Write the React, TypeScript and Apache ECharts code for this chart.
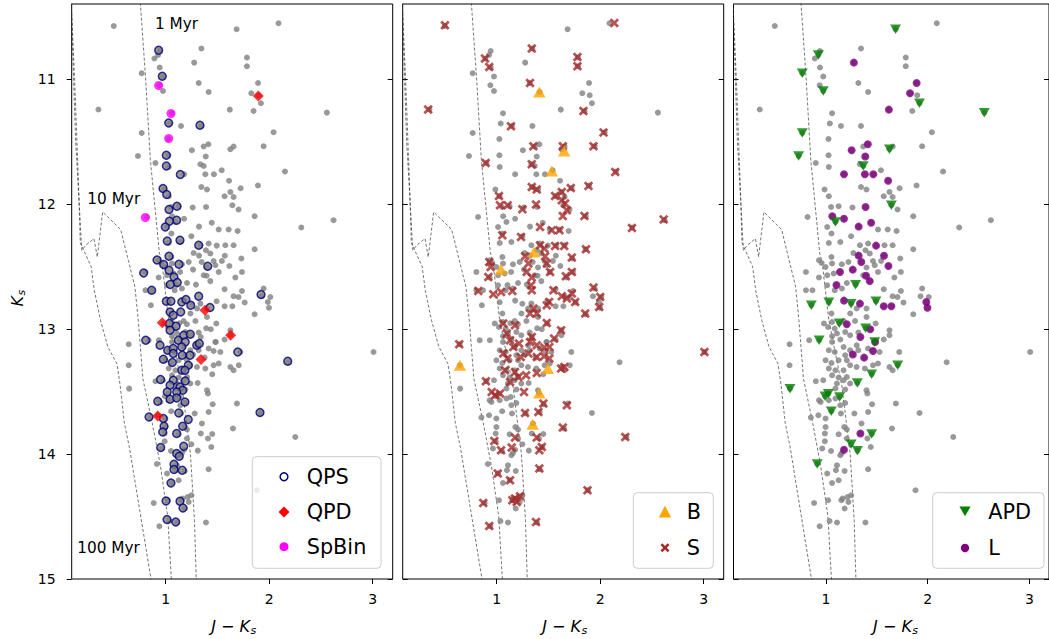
import React, { useEffect, useRef } from "react";
import * as echarts from "echarts";

const XMIN = 0.092;
const XMAX = 3.193;
const YMIN = 10.4;
const YMAX = 15;
const X_TICKS = [1, 2, 3];
const Y_TICKS = [11, 12, 13, 14, 15];

// Full sample: stars not flagged in the right-hand panel
const GRAY: number[][] = [
  [0.498,10.576],[2.090,10.554],[0.942,10.776],[0.891,10.836],[1.345,10.756],[1.785,10.828],[1.785,10.898],[0.942,10.908],[0.974,10.980],[0.939,11.050],[1.319,11.032],[1.415,11.104],[1.898,11.130],[0.350,11.244],[1.061,11.274],[1.849,11.256],[1.039,11.356],[1.148,11.376],[1.345,11.376],[2.042,11.426],[1.026,11.480],[1.946,11.538],[1.367,11.540],[1.656,11.540],[1.026,11.610],[0.901,11.672],[1.029,11.704],[1.335,11.682],[1.541,11.730],[2.152,11.740],[1.891,11.852],[0.987,11.884],[1.345,11.864],[1.399,11.884],[1.724,11.874],[1.625,11.904],
  [1.029,11.938],[1.569,11.938],[1.656,11.944],[0.820,12.104],[1.051,12.024],[1.125,12.018],[1.261,12.028],[1.512,12.204],[1.608,12.204],[1.695,12.216],[1.013,12.184],[1.055,12.236],[1.142,12.304],[1.248,12.258],[1.029,12.312],[1.335,12.330],[1.415,12.316],[1.576,12.330],[1.656,12.330],[1.389,12.370],[1.431,12.396],[1.270,12.392],[1.222,12.464],[0.932,12.450],[0.958,12.472],[0.997,12.504],[1.055,12.424],[1.061,12.476],[1.157,12.482],[1.399,12.508],[1.480,12.490],[1.543,12.456],[1.463,12.456],[1.512,12.544],[0.804,12.544],[0.932,12.588],[1.013,12.570],[1.077,12.556],[1.367,12.570],[1.673,12.588],[1.206,12.632],[1.157,12.676],[1.013,12.650],[0.804,12.690],[0.868,12.690],[1.087,12.690],[1.569,12.682],[1.656,12.738],
  [1.704,12.044],[1.859,12.098],[2.310,12.188],[2.622,12.130],[1.859,12.362],[1.731,12.436],[1.737,12.544],[1.737,12.696],[1.704,12.744],[1.763,12.788],[1.946,12.676],[1.930,12.738],[2.011,12.744],[1.859,12.882],[1.721,13.184],[3.008,13.184],[2.187,13.266],[1.920,13.672],[2.252,13.864],[1.881,14.290],
  [1.055,12.876],[0.981,12.956],[1.061,12.944],[1.239,12.876],[1.303,12.836],[1.399,12.836],[1.489,12.956],[1.399,12.904],[1.287,12.936],[1.174,12.936],[1.022,12.984],[1.087,12.996],[1.190,13.024],[1.238,13.050],[1.319,13.028],[1.625,13.010],[1.625,13.050],[1.569,13.084],[0.836,13.090],[0.643,13.122],[1.061,13.058],[1.109,13.036],[1.142,13.084],[1.061,13.104],[1.029,13.170],[1.087,13.184],[1.174,13.144],[1.190,13.210],[1.238,13.170],[1.303,13.130],[1.319,13.170],[1.415,13.156],[1.528,13.184],[0.643,13.290],[0.997,13.250],[1.055,13.272],[1.125,13.250],[1.206,13.250],[1.238,13.290],[1.029,13.316],[1.094,13.330],[1.174,13.330],[1.302,13.304],[1.383,13.316],[1.463,13.290],[1.512,13.276],[1.625,13.304],[1.656,13.330],[1.061,13.370],[1.125,13.388],[1.206,13.384],[0.901,13.418],[0.974,13.410],[1.109,13.436],[1.174,13.410],[1.238,13.436],[1.094,13.476],[1.190,13.484],[1.399,13.490],[1.408,13.516],[1.029,13.570],[1.094,13.556],[0.932,13.570],[1.688,13.596],
  [0.949,13.584],[1.142,13.610],[1.190,13.592],[1.454,13.602],[0.852,13.708],[0.926,13.690],[0.997,13.716],[1.148,13.676],[1.280,13.676],[1.415,13.664],[0.997,13.784],[1.180,13.784],[1.206,13.804],[1.350,13.756],[1.650,13.796],[0.990,13.836],[1.125,13.842],[1.206,13.876],[1.408,13.876],[0.990,13.898],[0.964,13.956],[1.051,13.976],[1.142,14.010],[1.157,13.992],[1.441,13.944],[1.109,14.090],[1.099,14.130],[1.013,14.156],[1.184,14.136],[1.415,14.122],[1.061,14.232],[1.125,14.210],[0.884,14.392],[1.022,14.370],[1.152,14.370],[1.164,14.356],[1.212,14.344],[1.248,14.330],[1.222,14.384],[1.184,14.436],[1.036,14.536],[1.109,14.548],[0.939,14.578],[1.389,14.548],
];

const APD: number[][] = [
  [1.685,10.602],[0.926,10.808],[0.768,10.954],[0.974,11.096],[1.920,11.194],[2.557,11.269],[0.768,11.432],[0.732,11.616],[1.625,11.562],[1.367,11.696],[1.644,12.010],[1.094,12.144],[1.292,12.645],[0.857,12.810],[1.029,12.786],[1.248,12.798],[1.492,12.778],[1.132,12.954],[1.391,12.994],[1.480,13.104],[0.934,13.090],[1.706,13.290],[1.450,13.362],[1.309,13.432],[0.647,13.477],[1.024,13.518],[0.992,13.538],[1.135,13.544],[1.053,13.658],[1.450,13.840],[1.248,13.922],[1.310,13.973],[0.915,14.080],
];

const L: number[][] = [
  [1.275,10.869],[1.892,11.032],[1.827,11.114],[1.619,11.245],[1.412,11.522],[1.253,11.570],[1.387,11.620],[1.178,11.762],[1.383,11.762],[1.466,11.762],[1.612,11.814],[1.390,12.024],[1.063,12.098],[1.178,12.118],[1.322,12.181],[1.445,12.150],[1.493,12.333],[1.322,12.413],[1.571,12.414],[1.348,12.464],[1.615,12.496],[1.264,12.525],[1.395,12.574],[1.431,12.617],[1.139,12.544],[1.104,12.648],[1.178,12.773],[1.335,12.797],[1.569,12.818],[1.644,12.818],[1.987,12.784],[1.998,12.830],[1.205,12.962],[1.436,13.002],[1.339,13.064],[1.484,13.104],[1.463,13.176],[1.265,13.204],[1.376,13.229],[1.339,13.836],[1.178,13.966],
];

const QPS: number[][] = [
  [0.932,10.770],[0.967,10.978],[1.029,11.352],[1.331,11.370],[1.006,11.610],[1.006,11.696],[1.141,11.764],[0.974,11.876],[1.010,11.924],[1.109,12.018],[1.032,12.044],[1.106,12.130],[1.035,12.138],[0.996,12.184],[1.015,12.296],[1.138,12.290],[1.319,12.330],[0.916,12.448],[1.032,12.418],[0.981,12.484],[1.032,12.530],[1.128,12.482],[1.406,12.498],[0.787,12.552],[1.080,12.584],[1.112,12.628],[1.044,12.644],[0.865,12.690],[1.319,12.738],[1.921,12.724],[1.006,12.778],[1.051,12.778],[1.155,12.784],[1.196,12.764],[1.242,12.810],[1.428,12.828],[1.042,12.864],[1.145,12.864],[1.073,12.890],[1.035,12.956],[1.100,12.978],[1.042,13.010],[0.807,13.090],[1.174,13.050],[1.238,13.042],[1.122,13.090],[1.189,13.104],[0.945,13.130],[1.019,13.170],[1.073,13.156],[1.155,13.144],[1.300,13.130],[1.325,13.116],[1.073,13.196],[1.160,13.210],[1.235,13.210],[1.696,13.184],[0.977,13.242],[1.064,13.268],[1.218,13.290],[1.155,13.330],[1.186,13.330],[2.179,13.258],[0.950,13.404],[1.073,13.410],[1.189,13.416],[1.042,13.450],[1.138,13.464],[1.164,13.490],[1.015,13.504],[1.106,13.504],[0.923,13.578],[1.042,13.562],[1.106,13.552],[1.186,13.584],[1.126,13.672],[1.911,13.668],[0.839,13.704],[0.977,13.716],[1.218,13.724],[0.984,13.778],[1.164,13.778],[0.971,13.824],[1.106,13.836],[0.952,13.948],[1.174,13.938],[1.106,13.996],[1.131,14.018],[1.080,14.082],[1.080,14.124],[1.160,14.130],[1.051,14.232],[1.003,14.376],[1.138,14.378],[1.167,14.432],[1.013,14.524],[1.097,14.544],
];

const QPD: number[][] = [
  [1.895,11.136],[1.380,12.850],[0.967,12.950],[1.628,13.050],[1.341,13.244],[0.923,13.696],
];

const SPBIN: number[][] = [
  [0.932,11.052],[1.051,11.276],[1.029,11.476],[0.803,12.108],
];

const B: number[][] = [
  [1.412,11.104],[1.652,11.576],[1.532,11.736],[1.361,12.384],[1.042,12.524],[0.645,13.290],[1.494,13.316],[1.412,13.512],[1.348,13.762],
];

const S: number[][] = [
  [0.500,10.570],[2.136,10.552],[1.339,10.756],[0.887,10.836],[0.928,10.904],[1.780,10.824],[1.780,10.898],[1.322,11.032],[0.338,11.244],[1.838,11.256],[1.138,11.378],[2.032,11.428],[1.354,11.538],[1.639,11.538],[1.935,11.538],[0.894,11.672],[1.339,11.682],[2.145,11.744],[1.887,11.856],[1.339,11.864],[1.387,11.884],[1.716,11.872],[1.564,11.936],[1.629,11.904],[1.022,11.936],[1.032,12.010],[1.106,12.010],[1.248,12.042],[1.380,12.004],[1.629,11.970],[1.661,11.996],[1.678,12.050],[1.639,12.096],[1.848,12.096],[2.613,12.124],[2.307,12.192],[1.419,12.184],[1.532,12.210],[1.606,12.210],[1.054,12.250],[1.235,12.264],[1.419,12.330],[1.461,12.356],[1.564,12.336],[1.652,12.336],[1.862,12.362],[1.726,12.428],[1.274,12.418],[1.468,12.418],[0.928,12.464],[0.942,12.504],[0.919,12.584],[1.306,12.476],[1.484,12.476],[1.290,12.544],[1.339,12.588],[1.516,12.544],[1.668,12.578],[1.726,12.544],[1.935,12.668],[2.000,12.744],[1.990,12.824],[0.822,12.696],[0.967,12.722],[1.042,12.704],[1.151,12.696],[1.332,12.650],[1.339,12.690],[1.548,12.690],[1.629,12.738],[1.726,12.716],[1.678,12.756],[1.758,12.784],[1.506,12.784],[1.484,12.810],[1.354,12.836],[1.322,12.876],[1.387,12.876],[1.855,12.876],
  [0.638,13.122],[1.064,12.956],[1.097,13.036],[1.177,12.970],[1.129,13.090],[1.161,13.144],[1.216,13.116],[1.322,13.104],[1.339,13.064],[1.387,13.130],[1.484,12.952],[1.622,13.010],[1.555,13.076],[1.461,13.148],[1.509,13.144],[1.064,13.196],[1.103,13.236],[1.080,13.330],[1.177,13.344],[1.209,13.384],[1.232,13.224],[1.306,13.196],[1.387,13.224],[1.458,13.218],[1.509,13.236],[1.622,13.316],[1.654,13.304],[0.896,13.418],[1.129,13.424],[1.284,13.370],[1.387,13.352],[0.952,13.504],[0.984,13.530],[1.032,13.516],[1.264,13.504],[1.451,13.596],[1.678,13.610],[1.274,13.672],[1.403,13.664],[1.639,13.788],[0.977,13.896],[1.177,13.868],[1.387,13.868],[1.145,13.948],[1.042,13.970],[1.436,13.944],[1.412,13.970],[2.242,13.864],[1.412,14.116],[1.010,14.156],[1.129,14.210],[1.877,14.290],[1.177,14.356],[1.226,14.338],[1.194,14.384],[1.151,14.370],[0.870,14.392],[0.928,14.576],[1.380,14.544],[3.007,13.184],
];

// Isochrones (dashed)
const ISO_1MYR: number[][] = [
  [0.75,10.35],[0.756,10.40],[0.807,11.01],[0.852,11.65],[0.939,12.39],[0.964,12.47],[1.029,12.93],[1.158,13.46],[1.239,14.0],[1.278,14.53],[1.297,15.05],
];
const ISO_10MYR: number[][] = [
  [0.085,10.35],[0.13,11.5],[0.165,12.0],[0.189,12.37],[0.228,12.33],[0.307,12.277],[0.339,12.424],[0.391,12.064],[0.565,12.204],[0.703,12.664],[0.735,12.93],[0.78,13.40],[0.87,13.75],[0.95,14.1],[1.02,14.5],[1.058,15.05],
];
const ISO_100MYR: number[][] = [
  [0.085,10.35],[0.12,11.0],[0.16,11.89],[0.175,12.31],[0.28,12.50],[0.31,12.69],[0.37,12.93],[0.44,13.14],[0.53,13.28],[0.56,13.45],[0.60,13.75],[0.65,13.95],[0.868,15.05],
];

const FONT = '"DejaVu Sans", "Liberation Sans", sans-serif';
const CROSS_PTS = [[0,2],[2,0],[5,3],[8,0],[10,2],[7,5],[10,8],[8,10],[5,7],[2,10],[0,8],[3,5]];
const CROSS = "path://M0,2L2,0L5,3L8,0L10,2L7,5L10,8L8,10L5,7L2,10L0,8L3,5Z";
const DOWN_TRI = "path://M0,0L10,0L5,9Z";

const GRIDS = [
  { left: 71.7, top: 4, width: 321, height: 575 },
  { left: 402.7, top: 4, width: 321, height: 575 },
  { left: 733.5, top: 4, width: 321, height: 575 },
];

const crossPoly = (cx: number, cy: number, s: number) => CROSS_PTS.map(([a, b]) => [cx + ((a - 5) / 10) * s, cy + ((b - 5) / 10) * s]);

export default function App() {
  const ref = useRef<HTMLDivElement>(null);
  useEffect(() => {
    document.body.style.margin = "0";
    if (!ref.current) return;
    const chart = echarts.init(ref.current, undefined, { renderer: "svg" });

    const grid = GRIDS.map((g) => ({ ...g, show: true, borderColor: "#000", borderWidth: 1, backgroundColor: "transparent", containLabel: false }));

    const xAxis = GRIDS.map((_, i) => ({
      type: "value",
      gridIndex: i,
      min: XMIN,
      max: XMAX,
      axisLine: { show: false },
      splitLine: { show: false },
      axisTick: { show: true, customValues: X_TICKS, length: 5, lineStyle: { color: "#000", width: 1 } },
      axisLabel: { show: true, customValues: X_TICKS, margin: 13, fontSize: 14, fontFamily: FONT, color: "#000" },
    }));

    const yAxis: any[] = [];
    GRIDS.forEach((_, i) => {
      yAxis.push({
        type: "value",
        gridIndex: i,
        position: "left",
        inverse: true,
        min: YMIN,
        max: YMAX,
        axisLine: { show: false },
        splitLine: { show: false },
        axisTick: { show: true, inside: i !== 0, customValues: Y_TICKS, length: 5, lineStyle: { color: "#000", width: 1 } },
        axisLabel: { show: i === 0, customValues: Y_TICKS, margin: 16, fontSize: 14, fontFamily: FONT, color: "#000" },
      });
      yAxis.push({
        type: "value",
        gridIndex: i,
        position: "right",
        inverse: true,
        min: YMIN,
        max: YMAX,
        axisLine: { show: false },
        splitLine: { show: false },
        axisTick: { show: true, inside: true, customValues: Y_TICKS, length: 5, lineStyle: { color: "#000", width: 1 } },
        axisLabel: { show: false },
      });
    });

    const series: any[] = [];
    GRIDS.forEach((_, i) => {
      [ISO_1MYR, ISO_10MYR, ISO_100MYR].forEach((iso, k) => {
        series.push({
          type: "line",
          name: `iso${i}_${k}`,
          xAxisIndex: i,
          yAxisIndex: 2 * i,
          data: iso,
          symbol: "none",
          silent: true,
          clip: true,
          lineStyle: { color: "#333", width: 0.8, type: [3, 2], opacity: 0.85 },
          z: 1,
        });
      });
      series.push({
        type: "scatter",
        name: `all${i}`,
        xAxisIndex: i,
        yAxisIndex: 2 * i,
        data: [...GRAY, ...APD, ...L],
        symbol: "circle",
        symbolSize: 6,
        itemStyle: { color: "#808080" },
        silent: true,
        z: 2,
      });
    });

    const mk = (name: string, i: number, data: number[][], symbol: string, size: any, itemStyle: any, z = 3) => ({
      type: "scatter",
      name,
      xAxisIndex: i,
      yAxisIndex: 2 * i,
      data,
      symbol,
      symbolSize: size,
      itemStyle,
      silent: true,
      z,
    });

    // QPS stars are part of the grey sample, so their open circles show the grey dot inside
    series.push(mk("QPS", 0, QPS, "circle", 7.8, { color: "#808080", borderColor: "#000080", borderWidth: 1.5 }));
    series.push(mk("QPD", 0, QPD, "diamond", 11, { color: "#ff0000" }, 4));
    series.push(mk("SpBin", 0, SPBIN, "circle", 9, { color: "#ff00ff" }, 4));
    series.push(mk("S", 1, S, CROSS, 9.5, { color: "#a52a2a" }));
    series.push(mk("B", 1, B, "triangle", [12.5, 11], { color: "#ffa500" }, 4));
    series.push(mk("L", 2, L, "circle", 8, { color: "#800080" }));
    series.push(mk("APD", 2, APD, DOWN_TRI, [11, 9.5], { color: "#008000" }, 4));

    const legFont = `20.8px ${FONT}`;
    const box = (x: number, y: number, w: number, h: number) => ({
      type: "rect",
      shape: { x, y, width: w, height: h, r: 4 },
      style: { fill: "rgba(255,255,255,0.8)", stroke: "#cccccc", lineWidth: 1 },
      z: 10,
    });
    const ltext = (x: number, y: number, t: string) => ({
      type: "text",
      x,
      y,
      z: 11,
      style: { text: t, font: legFont, fill: "#000", align: "left", verticalAlign: "middle" },
    });

    const legendGraphics = [
      box(252.3, 456.7, 128.7, 111.6),
      { type: "circle", z: 11, shape: { cx: 284, cy: 476.7, r: 3.9 }, style: { fill: "none", stroke: "#000080", lineWidth: 1.5 } },
      { type: "polygon", z: 11, shape: { points: [[284, 506.5], [289.5, 512], [284, 517.5], [278.5, 512]] }, style: { fill: "#ff0000" } },
      { type: "circle", z: 11, shape: { cx: 284, cy: 546.7, r: 4.5 }, style: { fill: "#ff00ff" } },
      ltext(306.7, 477, "QPS"),
      ltext(306.7, 512.3, "QPD"),
      ltext(306.7, 547, "SpBin"),

      box(633.3, 492.7, 80, 75.6),
      { type: "polygon", z: 11, shape: { points: [[665, 505.7], [671.2, 517.4], [658.8, 517.4]] }, style: { fill: "#ffa500" } },
      { type: "polygon", z: 11, shape: { points: crossPoly(665, 547.7, 9) }, style: { fill: "#a52a2a" } },
      ltext(686.7, 512, "B"),
      ltext(686.7, 548, "S"),

      box(932.7, 492.7, 111.3, 75.6),
      { type: "polygon", z: 11, shape: { points: [[959.4, 506.5], [970.6, 506.5], [965, 516.2]] }, style: { fill: "#008000" } },
      { type: "circle", z: 11, shape: { cx: 965, cy: 548, r: 4.2 }, style: { fill: "#800080" } },
      ltext(988.3, 512, "APD"),
      ltext(988.3, 548, "L"),
    ];

    const xLabel = (cx: number) => ({
      type: "group",
      children: [
        {
          type: "text",
          x: cx + 17.9,
          y: 626,
          style: {
            text: "{i|J} − {i|K}",
            align: "right",
            verticalAlign: "middle",
            font: `16px ${FONT}`,
            fill: "#000",
            rich: { i: { fontStyle: "italic", fontSize: 16, fontFamily: FONT } },
          },
        },
        {
          type: "text",
          x: cx + 18.3,
          y: 630,
          style: { text: "s", align: "left", verticalAlign: "middle", font: `italic 11px ${FONT}`, fill: "#000" },
        },
      ],
    });

    const graphic = [
      { type: "text", x: 155, y: 24, style: { text: "1 Myr", font: `15.3px ${FONT}`, fill: "#000", align: "left", verticalAlign: "middle" } },
      { type: "text", x: 87.3, y: 199, style: { text: "10 Myr", font: `15.3px ${FONT}`, fill: "#000", align: "left", verticalAlign: "middle" } },
      { type: "text", x: 77.3, y: 548, style: { text: "100 Myr", font: `15.3px ${FONT}`, fill: "#000", align: "left", verticalAlign: "middle" } },
      xLabel(232.2),
      xLabel(563.2),
      xLabel(894),
      {
        type: "group",
        x: 17,
        y: 296,
        rotation: Math.PI / 2,
        children: [
          { type: "text", x: 0, y: 0, style: { text: "K", align: "right", verticalAlign: "middle", font: `italic 16px ${FONT}`, fill: "#000" } },
          { type: "text", x: 0.5, y: 4, style: { text: "s", align: "left", verticalAlign: "middle", font: `italic 11px ${FONT}`, fill: "#000" } },
        ],
      },
      ...legendGraphics,
    ];

    chart.setOption({
      animation: false,
      backgroundColor: "#fff",
      grid,
      xAxis,
      yAxis,
      series,
      graphic,
    });
    return () => chart.dispose();
  }, []);
  return <div ref={ref} style={{ width: 1049, height: 639 }} />;
}
